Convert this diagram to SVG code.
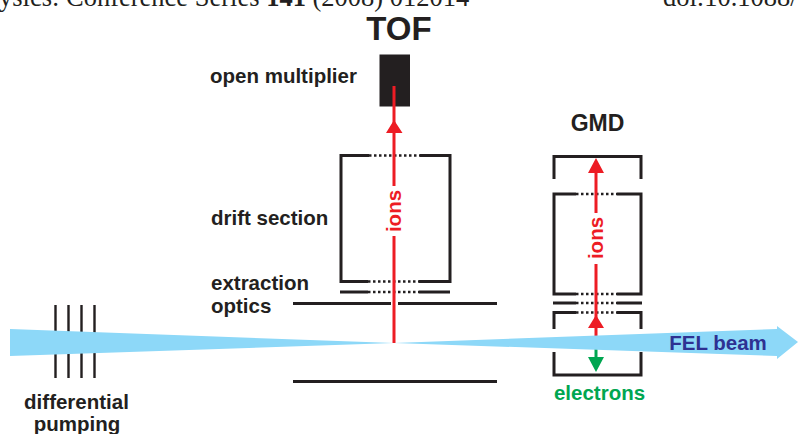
<svg xmlns="http://www.w3.org/2000/svg" width="798" height="434" viewBox="0 0 798 434">
<style>
.lbl{font-family:"Liberation Sans",Arial,sans-serif;font-weight:700;font-size:20.500px;fill:#231f20}
.hdr{font-family:"Liberation Serif","Times New Roman",serif;font-size:26.500px;fill:#231f20}
.wall{fill:none;stroke:#231f20;stroke-width:3}
.dot{fill:none;stroke:#231f20;stroke-width:2.500;stroke-dasharray:2.500 2.500}
.thin{fill:none;stroke:#231f20;stroke-width:2.400}
.red{stroke:#ed1c24;stroke-width:3;fill:none}
.grn{stroke:#00a651;stroke-width:3;fill:none}
</style>
<rect width="798" height="434" fill="#fff"/>
<g id="header">
<text class="hdr" x="-1" y="6">ysics: Conference Series <tspan font-weight="700">141</tspan> (2008) 012014</text>
<text class="hdr" x="663" y="6">doi:10.1088/</text>
</g>
<g id="pumping-apertures">
<path class="thin" d="M55.500 305V378M68.500 305V378M81.500 305V378M94.500 305V378"/>
</g>
<g id="tof-drift">
<path class="wall" d="M369 155.500H341V281.500H368M420 155.500H450V281.500H419"/>
<path class="dot" d="M369 155.500H420M368 281.500H419M368 292H419"/>
<path class="wall" d="M340 292H368M419 292H450"/>
</g>
<g id="extraction-plates">
<path class="wall" d="M293 303.500H391M398 303.500H497M293 381.500H497"/>
</g>
<g id="gmd-box">
<path class="wall" d="M554 179V156.500H641V179M576 194H554V294H576M617 194H641V294H617M553 303H576M617 303H642M576 312.500H554V329M617 312.500H641V329M554 352V375H641V352"/>
<path class="dot" d="M576 194H617M576 294H617M576 303H617M576 312.500H617"/>
</g>
<g id="connectors">
<path class="red" d="M394 122V186M394 236V343"/>
<path class="red" d="M596 170V213M596 264V345"/>
<path class="grn" d="M596 348V360"/>
</g>
<g id="beam">
<path fill="#8dd8f8" d="M10 329L394 343L10 356ZM394 343L777 329V326L798 342L777 359V356Z"/>
</g>
<g id="arrowheads">
<path fill="#ed1c24" d="M394 120L402.500 133H386ZM596 158L604 173H588ZM596 315L604 328H588Z"/>
<path fill="#00a651" d="M588 357H604L596 372Z"/>
<rect x="379.500" y="54.500" width="30.500" height="52" fill="#231f20"/>
<path class="red" d="M394 86V122"/>
</g>
<g id="labels">
<text class="lbl" x="399" y="40" text-anchor="middle" style="font-size:33px">TOF</text>
<text class="lbl" x="210" y="83">open multiplier</text>
<text class="lbl" x="211" y="225">drift section</text>
<text class="lbl" x="211" y="290">extraction</text>
<text class="lbl" x="211" y="313">optics</text>
<text class="lbl" x="597.500" y="131" text-anchor="middle" style="font-size:23px">GMD</text>
<text class="lbl" x="599.500" y="400" text-anchor="middle" style="fill:#00a651">electrons</text>
<text class="lbl" x="718" y="350" text-anchor="middle" style="fill:#2e3192">FEL beam</text>
<text class="lbl" x="76.500" y="409" text-anchor="middle">differential</text>
<text class="lbl" x="77" y="431" text-anchor="middle">pumping</text>
<text class="lbl" transform="translate(400.500 211) rotate(-90)" text-anchor="middle" style="fill:#ed1c24">ions</text>
<text class="lbl" transform="translate(602.500 238) rotate(-90)" text-anchor="middle" style="fill:#ed1c24">ions</text>
</g>
</svg>
